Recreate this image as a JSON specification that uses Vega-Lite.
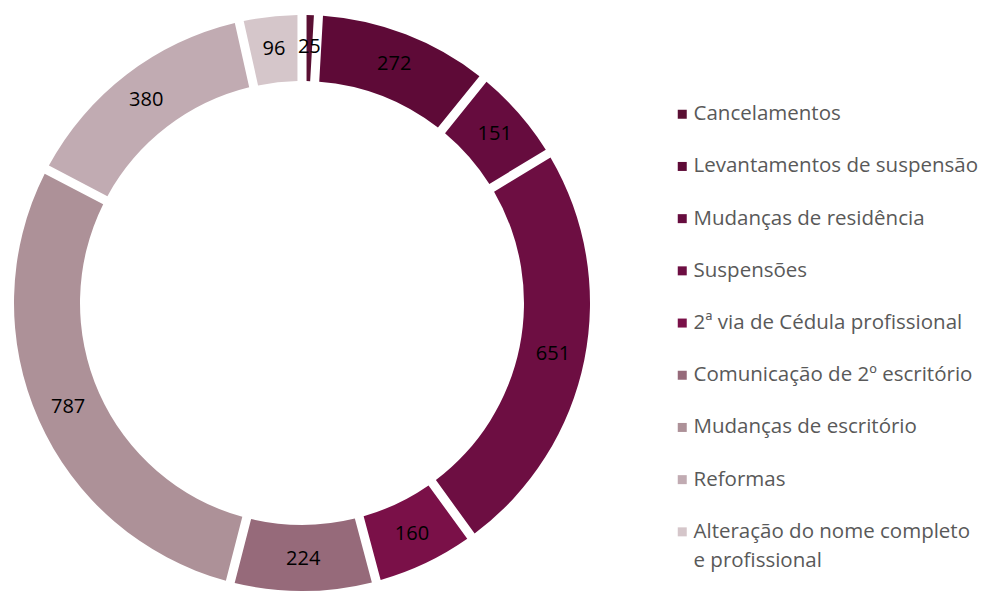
{
  "$schema": "https://vega.github.io/schema/vega-lite/v6.json",
  "width": 604,
  "height": 590,
  "padding": {"left": 0, "top": 8, "right": 0, "bottom": 0},
  "background": "white",
  "config": {"view": {"stroke": null}, "font": "Open Sans"},
  "data": {
    "values": [
      {"k": 1, "cat": "Cancelamentos", "v": 25},
      {"k": 2, "cat": "Levantamentos de suspensão", "v": 272},
      {"k": 3, "cat": "Mudanças de residência", "v": 151},
      {"k": 4, "cat": "Suspensões", "v": 651},
      {"k": 5, "cat": "2ª via de Cédula profissional", "v": 160},
      {"k": 6, "cat": "Comunicação de 2º escritório", "v": 224},
      {"k": 7, "cat": "Mudanças de escritório", "v": 787},
      {"k": 8, "cat": "Reformas", "v": 380},
      {"k": 9, "cat": "Alteração do nome completo e profissional", "v": 96}
    ]
  },
  "encoding": {
    "theta": {"field": "v", "type": "quantitative", "stack": true},
    "order": {"field": "k", "type": "quantitative"}
  },
  "layer": [
    {
      "mark": {"type": "arc", "radius": 288, "radius2": 222, "padAngle": 0.025},
      "encoding": {
        "color": {
          "field": "cat",
          "type": "nominal",
          "scale": {
            "domain": ["Cancelamentos", "Levantamentos de suspensão", "Mudanças de residência", "Suspensões", "2ª via de Cédula profissional", "Comunicação de 2º escritório", "Mudanças de escritório", "Reformas", "Alteração do nome completo e profissional"],
            "range": ["#5a0f33", "#5e0a37", "#660c3e", "#6d0e42", "#7a1048", "#966a7a", "#ad9198", "#c1abb2", "#d5c6ca"]
          },
          "legend": {
            "title": null,
            "orient": "none",
            "legendX": 672,
            "legendY": 96,
            "symbolType": "square",
            "symbolSize": 81,
            "symbolStrokeWidth": 0,
            "labelFont": "Open Sans",
            "labelFontSize": 20.5,
            "labelColor": "#595959",
            "labelOffset": 1,
            "labelLimit": 400,
            "rowPadding": 31.2,
            "labelExpr": "datum.label == 'Alteração do nome completo e profissional' ? ['Alteração do nome completo', 'e profissional'] : datum.label",
            "encode": {"labels": {"update": {"lineHeight": {"value": 29}}}}
          }
        }
      }
    },
    {
      "mark": {"type": "text", "radius": 256, "fontSize": 20, "font": "Open Sans", "color": "black"},
      "encoding": {
        "text": {"field": "v", "type": "quantitative"}
      }
    }
  ]
}
